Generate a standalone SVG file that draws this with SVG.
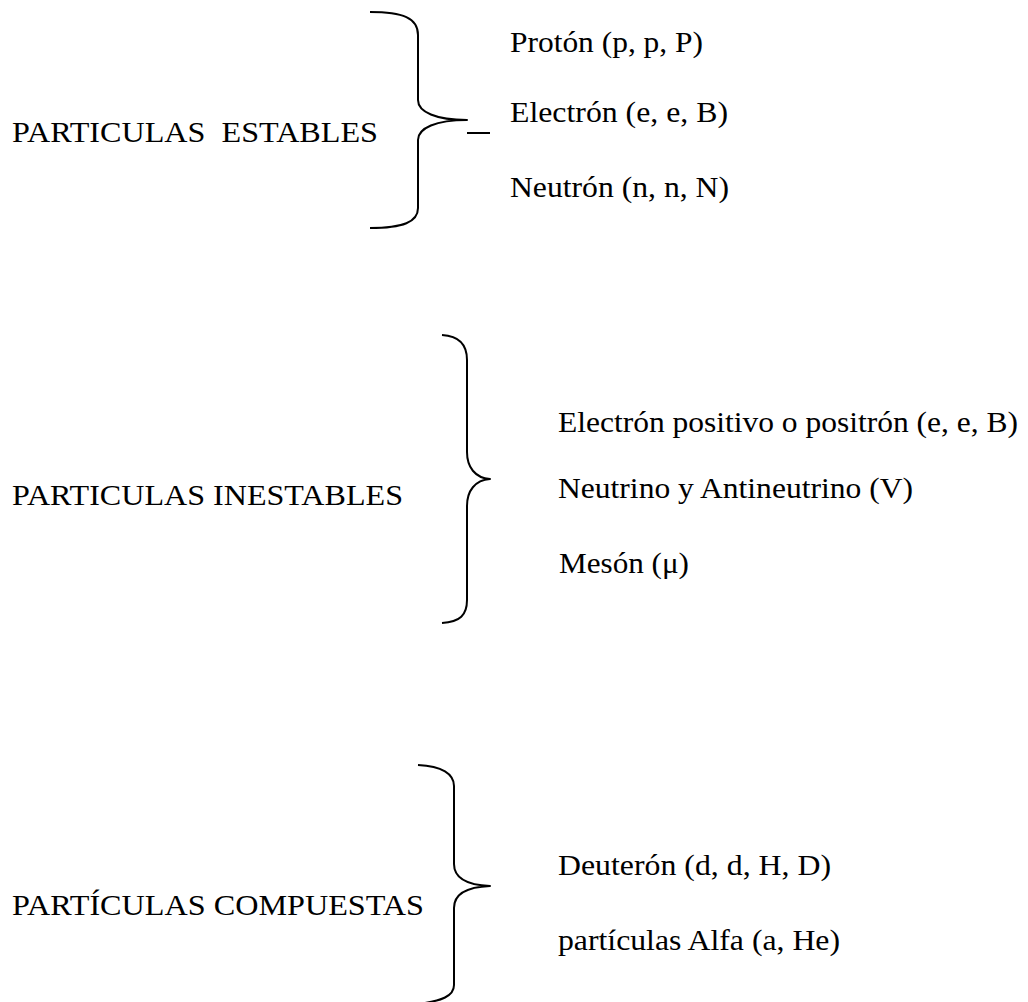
<svg xmlns="http://www.w3.org/2000/svg" width="1028" height="1002" viewBox="0 0 1028 1002">
  <style>
    .t { font-family: "Liberation Serif", Tinos, "Noto Serif", "DejaVu Serif", FreeSerif, "Nimbus Roman", "Times New Roman", Times, serif; font-size: 29px; fill: #000; white-space: pre; }
    .br { fill: none; stroke: #000; stroke-width: 2; stroke-linecap: butt; stroke-linejoin: round; }
  </style>
  <rect x="0" y="0" width="1028" height="1002" fill="#fff"/>
  <g id="connectors">
    <path class="br" d="M370,12 C403,12 418,18 418,35 L418,100 C418,112 436,120 467,120 C436,120 418,128 418,140 L418,208 C418,222 403,228 370,228"/>
    <line class="br" x1="467" y1="133" x2="490" y2="133"/>
    <path class="br" d="M442,335 C460,336 467,345 467,360 L467,452 C467,467 475,478 490,479 C475,480 467,491 467,506 L467,600 C467,615 460,622 442,623"/>
    <path class="br" d="M418,765 C442,766 454,774 454,786 L454,864 C454,877 466,885 490,886 C466,887 454,895 454,908 L454,985 C454,996 442,1001 418,1004"/>
  </g>
  <g id="estables">
    <text class="t" x="12" y="142" textLength="366" lengthAdjust="spacingAndGlyphs" xml:space="preserve">PARTICULAS  ESTABLES</text>
    <text class="t" x="510" y="52" textLength="193" lengthAdjust="spacingAndGlyphs">Protón (p, p, P)</text>
    <text class="t" x="510" y="122" textLength="218" lengthAdjust="spacingAndGlyphs">Electrón (e, e, B)</text>
    <text class="t" x="510" y="197" textLength="219" lengthAdjust="spacingAndGlyphs">Neutrón (n, n, N)</text>
  </g>
  <g id="inestables">
    <text class="t" x="12" y="505" textLength="391" lengthAdjust="spacingAndGlyphs">PARTICULAS INESTABLES</text>
    <text class="t" x="558" y="432" textLength="460" lengthAdjust="spacingAndGlyphs">Electrón positivo o positrón (e, e, B)</text>
    <text class="t" x="558" y="498" textLength="355" lengthAdjust="spacingAndGlyphs">Neutrino y Antineutrino (V)</text>
    <text class="t" x="559" y="573" textLength="130" lengthAdjust="spacingAndGlyphs">Mesón (μ)</text>
  </g>
  <g id="compuestas">
    <text class="t" x="12" y="915" textLength="412" lengthAdjust="spacingAndGlyphs">PARTÍCULAS COMPUESTAS</text>
    <text class="t" x="558" y="875" textLength="273" lengthAdjust="spacingAndGlyphs">Deuterón (d, d, H, D)</text>
    <text class="t" x="558" y="950" textLength="282" lengthAdjust="spacingAndGlyphs">partículas Alfa (a, He)</text>
  </g>
</svg>
